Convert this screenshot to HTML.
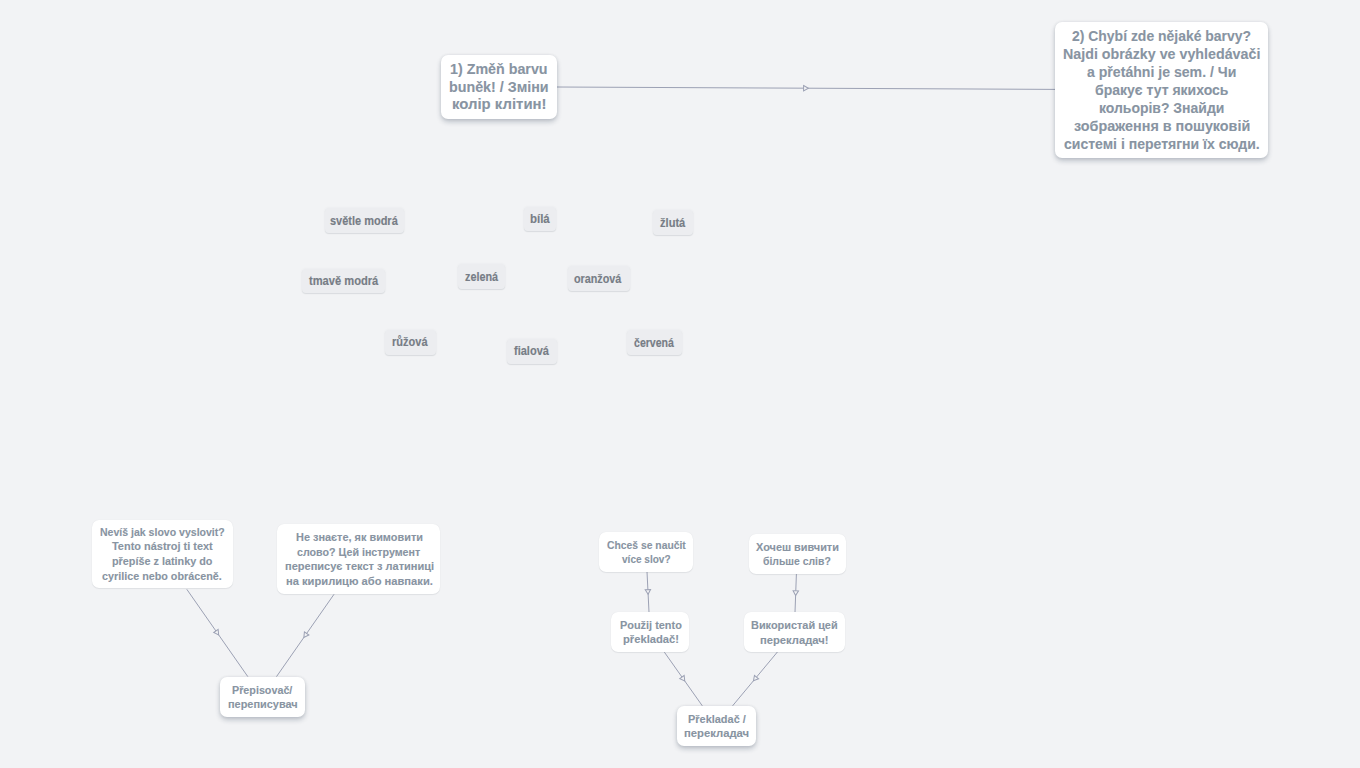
<!DOCTYPE html><html><head><meta charset="utf-8"><style>
html,body{margin:0;padding:0;}
body{width:1360px;height:768px;overflow:hidden;background:#f2f3f5;position:relative;font-family:"Liberation Sans",sans-serif;font-weight:bold;}
.bx{position:absolute;background:#fff;border-radius:7px;box-shadow:0 0 3px rgba(40,45,60,0.10),0 3px 5px rgba(30,45,70,0.24);}
.bl{box-shadow:0 0 1px rgba(40,45,60,0.10),0 1px 1px rgba(40,50,70,0.08);}
.ch{position:absolute;background:#ecedf0;border-radius:4px;box-shadow:0 0 3px rgba(40,45,60,0.05),0 1px 1px rgba(40,50,70,0.10);}
.t{position:absolute;white-space:nowrap;line-height:1;transform-origin:0 0;color:#8894a2;-webkit-text-stroke:0.1px #8894a2;}
.ct{color:#777d86;-webkit-text-stroke:0.15px #777d86;}
svg{position:absolute;left:0;top:0;}

</style></head><body>
<svg width="1360" height="768" viewBox="0 0 1360 768"><line x1="557" y1="87.0" x2="1055" y2="89.4" stroke="#9ca1b4" stroke-width="1"/><polygon points="-2.4,-2.7 2.4,0 -2.4,2.7" transform="translate(806.00,88.20) rotate(0.28)" fill="#f2f3f5" stroke="#9ca1b4" stroke-width="1" stroke-linejoin="miter"/><line x1="186.8" y1="589.3" x2="247.8" y2="676.6" stroke="#9ca1b4" stroke-width="1"/><polygon points="-2.4,-2.7 2.4,0 -2.4,2.7" transform="translate(217.30,632.95) rotate(55.06)" fill="#f2f3f5" stroke="#9ca1b4" stroke-width="1" stroke-linejoin="miter"/><line x1="334" y1="594.3" x2="276.5" y2="676.6" stroke="#9ca1b4" stroke-width="1"/><polygon points="-2.4,-2.7 2.4,0 -2.4,2.7" transform="translate(305.25,635.45) rotate(124.94)" fill="#f2f3f5" stroke="#9ca1b4" stroke-width="1" stroke-linejoin="miter"/><line x1="647" y1="571.7" x2="649" y2="612.2" stroke="#9ca1b4" stroke-width="1"/><polygon points="-2.4,-2.7 2.4,0 -2.4,2.7" transform="translate(648.00,591.95) rotate(87.17)" fill="#f2f3f5" stroke="#9ca1b4" stroke-width="1" stroke-linejoin="miter"/><line x1="796.4" y1="574.1" x2="795" y2="612.25" stroke="#9ca1b4" stroke-width="1"/><polygon points="-2.4,-2.7 2.4,0 -2.4,2.7" transform="translate(795.70,593.17) rotate(92.10)" fill="#f2f3f5" stroke="#9ca1b4" stroke-width="1" stroke-linejoin="miter"/><line x1="664.4" y1="652.2" x2="702.3" y2="705.8" stroke="#9ca1b4" stroke-width="1"/><polygon points="-2.4,-2.7 2.4,0 -2.4,2.7" transform="translate(683.35,679.00) rotate(54.74)" fill="#f2f3f5" stroke="#9ca1b4" stroke-width="1" stroke-linejoin="miter"/><line x1="777.4" y1="652" x2="732.6" y2="705.8" stroke="#9ca1b4" stroke-width="1"/><polygon points="-2.4,-2.7 2.4,0 -2.4,2.7" transform="translate(755.00,678.90) rotate(129.78)" fill="#f2f3f5" stroke="#9ca1b4" stroke-width="1" stroke-linejoin="miter"/></svg>
<div class="bx" style="left:441px;top:54.5px;width:116.0px;height:64.0px"></div>
<div class="t" style="left:450.02px;top:61.80px;font-size:14.5px;transform:scaleX(0.9847)">1) Změň barvu</div>
<div class="t" style="left:448.91px;top:79.60px;font-size:14.5px;transform:scaleX(0.9850)">buněk! / Зміни</div>
<div class="t" style="left:451.97px;top:97.40px;font-size:14.5px;transform:scaleX(1.0278)">колір клітин!</div>
<div class="bx" style="left:1055px;top:22px;width:213.0px;height:136.0px"></div>
<div class="t" style="left:1072.30px;top:29.20px;font-size:14.5px;transform:scaleX(0.9618)">2) Chybí zde nějaké barvy?</div>
<div class="t" style="left:1063.12px;top:47.20px;font-size:14.5px;transform:scaleX(0.9834)">Najdi obrázky ve vyhledávači</div>
<div class="t" style="left:1087.40px;top:65.20px;font-size:14.5px;transform:scaleX(0.9719)">a přetáhni je sem. / Чи</div>
<div class="t" style="left:1095.10px;top:83.20px;font-size:14.5px;transform:scaleX(0.9667)">бракує тут якихось</div>
<div class="t" style="left:1098.74px;top:101.20px;font-size:14.5px;transform:scaleX(0.9628)">кольорів? Знайди</div>
<div class="t" style="left:1073.80px;top:119.20px;font-size:14.5px;transform:scaleX(0.9888)">зображення в пошуковій</div>
<div class="t" style="left:1064.10px;top:137.10px;font-size:14.5px;transform:scaleX(0.9673)">системі і перетягни їх сюди.</div>
<div class="bx bl" style="left:92px;top:519.6px;width:140.6px;height:68.9px"></div>
<div class="t" style="left:99.80px;top:526.90px;font-size:11px;transform:scaleX(0.9577)">Nevíš jak slovo vyslovit?</div>
<div class="t" style="left:112.40px;top:541.30px;font-size:11px;transform:scaleX(0.9950)">Tento nástroj ti text</div>
<div class="t" style="left:112.00px;top:556.10px;font-size:11px;transform:scaleX(0.9843)">přepíše z latinky do</div>
<div class="t" style="left:102.30px;top:570.70px;font-size:11px;transform:scaleX(0.9795)">cyrilice nebo obráceně.</div>
<div class="bx bl" style="left:277.2px;top:524.3px;width:163.0px;height:69.4px"></div>
<div class="t" style="left:295.50px;top:531.90px;font-size:11px;transform:scaleX(0.9922)">Не знаєте, як вимовити</div>
<div class="t" style="left:297.20px;top:547.00px;font-size:11px;transform:scaleX(0.9709)">слово? Цей інструмент</div>
<div class="t" style="left:284.70px;top:561.40px;font-size:11px;transform:scaleX(1.0020)">переписує текст з латиниці</div>
<div class="t" style="left:286.00px;top:576.40px;font-size:11px;transform:scaleX(1.0139)">на кирилицю або навпаки.</div>
<div class="bx" style="left:220px;top:677px;width:84.6px;height:39.7px"></div>
<div class="t" style="left:232.00px;top:684.60px;font-size:11px;transform:scaleX(0.9774)">Přepisovač/</div>
<div class="t" style="left:227.80px;top:699.20px;font-size:11px;transform:scaleX(0.9929)">переписувач</div>
<div class="bx bl" style="left:598.75px;top:532.4px;width:94.1px;height:39.3px"></div>
<div class="t" style="left:606.70px;top:539.80px;font-size:11px;transform:scaleX(0.9405)">Chceš se naučit</div>
<div class="t" style="left:621.80px;top:554.30px;font-size:11px;transform:scaleX(0.9132)">více slov?</div>
<div class="bx bl" style="left:748.6px;top:534px;width:97.4px;height:40.1px"></div>
<div class="t" style="left:755.90px;top:541.60px;font-size:11px;transform:scaleX(0.9928)">Хочеш вивчити</div>
<div class="t" style="left:763.40px;top:556.20px;font-size:11px;transform:scaleX(0.9465)">більше слів?</div>
<div class="bx bl" style="left:611.3px;top:612.2px;width:78.2px;height:40.0px"></div>
<div class="t" style="left:619.70px;top:619.60px;font-size:11px;transform:scaleX(0.9919)">Použij tento</div>
<div class="t" style="left:622.75px;top:634.30px;font-size:11px;transform:scaleX(1.0176)">překladač!</div>
<div class="bx bl" style="left:744.4px;top:612.25px;width:100.6px;height:39.8px"></div>
<div class="t" style="left:751.20px;top:619.90px;font-size:11px;transform:scaleX(0.9920)">Використай цей</div>
<div class="t" style="left:760.20px;top:634.70px;font-size:11px;transform:scaleX(1.0179)">перекладач!</div>
<div class="bx" style="left:676.5px;top:705.8px;width:79.5px;height:40.3px"></div>
<div class="t" style="left:687.50px;top:713.60px;font-size:11px;transform:scaleX(0.9948)">Překladač /</div>
<div class="t" style="left:684.00px;top:728.30px;font-size:11px;transform:scaleX(1.0238)">перекладач</div>
<div class="ch" style="left:324.6px;top:207.8px;width:79.4px;height:24.8px"></div>
<div class="t ct" style="left:330.00px;top:214.60px;font-size:12px;transform:scaleX(0.9149)">světle modrá</div>
<div class="ch" style="left:523.5px;top:206.5px;width:32.8px;height:24.8px"></div>
<div class="t ct" style="left:529.64px;top:212.80px;font-size:12px;transform:scaleX(0.9550)">bílá</div>
<div class="ch" style="left:653.4px;top:210.4px;width:40.1px;height:24.8px"></div>
<div class="t ct" style="left:660.30px;top:216.90px;font-size:12px;transform:scaleX(0.9250)">žlutá</div>
<div class="ch" style="left:302.3px;top:268.7px;width:82.5px;height:24.8px"></div>
<div class="t ct" style="left:309.20px;top:274.70px;font-size:12px;transform:scaleX(0.9280)">tmavě modrá</div>
<div class="ch" style="left:457.6px;top:264.2px;width:47.8px;height:24.8px"></div>
<div class="t ct" style="left:464.60px;top:270.70px;font-size:12px;transform:scaleX(0.9027)">zelená</div>
<div class="ch" style="left:568.2px;top:266.3px;width:61.8px;height:24.8px"></div>
<div class="t ct" style="left:574.40px;top:272.70px;font-size:12px;transform:scaleX(0.8981)">oranžová</div>
<div class="ch" style="left:385px;top:330.2px;width:51.0px;height:24.8px"></div>
<div class="t ct" style="left:391.78px;top:335.75px;font-size:12px;transform:scaleX(0.9184)">růžová</div>
<div class="ch" style="left:507.2px;top:338.8px;width:49.6px;height:24.8px"></div>
<div class="t ct" style="left:514.20px;top:344.80px;font-size:12px;transform:scaleX(0.9184)">fialová</div>
<div class="ch" style="left:626.7px;top:330.3px;width:55.0px;height:24.8px"></div>
<div class="t ct" style="left:633.80px;top:336.50px;font-size:12px;transform:scaleX(0.8804)">červená</div>
</body></html>
